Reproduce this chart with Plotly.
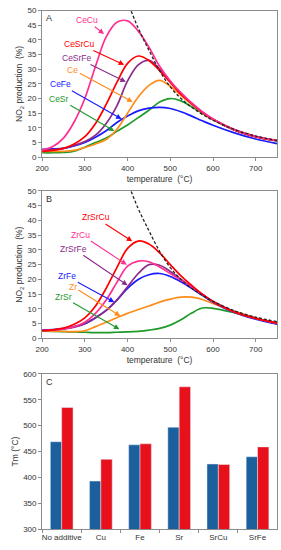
import plotly.graph_objects as go

# ---------------- data ----------------
T = [200, 225, 250, 275, 300, 325, 350, 375, 400, 425, 450, 475, 500, 525, 550, 575, 600, 650, 700, 750]

# Panel A (Ce-based)
ce_cu   = [2.4, 3.6, 6.5, 12.0, 20.0, 31.0, 41.0, 46.0, 46.5, 43.0, 37.5, 31.0, 26.0, 22.0, 18.5, 15.5, 13.0, 9.4, 7.1, 5.7]
ce_srcu = [2.0, 2.3, 3.0, 4.5, 7.0, 11.5, 18.0, 25.5, 32.0, 34.5, 33.0, 29.5, 25.5, 21.5, 18.3, 15.3, 12.9, 9.3, 7.0, 5.6]
ce_srfe = [2.5, 2.6, 3.0, 4.0, 5.3, 7.5, 11.5, 17.5, 26.0, 31.5, 33.0, 30.0, 25.8, 21.7, 18.3, 15.3, 12.9, 9.3, 7.0, 5.6]
ce      = [2.0, 2.0, 2.0, 2.3, 3.3, 4.5, 6.0, 9.5, 15.0, 20.5, 24.5, 26.2, 24.2, 21.0, 18.0, 15.2, 12.8, 9.3, 7.0, 5.6]
ce_fe   = [2.7, 2.8, 3.0, 3.8, 5.0, 6.8, 9.0, 11.8, 14.0, 15.8, 16.7, 17.0, 16.6, 15.5, 14.0, 12.4, 10.9, 8.3, 6.2, 4.6]
ce_sr   = [1.5, 1.5, 1.6, 2.0, 3.4, 5.0, 6.5, 8.8, 11.0, 13.5, 16.0, 18.8, 20.0, 19.2, 17.2, 15.0, 12.8, 9.3, 7.0, 5.5]

# Panel B (Zr-based)
zr_srcu = [2.6, 2.9, 3.5, 4.8, 7.0, 11.0, 17.0, 24.0, 30.5, 33.0, 32.0, 29.0, 25.0, 21.2, 18.0, 15.0, 12.5, 9.0, 6.8, 5.2]
zr_cu   = [2.6, 2.8, 3.2, 4.0, 5.5, 8.5, 13.0, 19.0, 24.5, 26.2, 26.0, 24.2, 22.0, 19.8, 17.5, 15.0, 12.5, 9.0, 6.8, 5.2]
zr_srfe = [2.7, 2.9, 3.2, 3.8, 5.0, 7.0, 9.5, 13.0, 17.5, 22.0, 25.0, 24.8, 22.7, 20.0, 17.4, 14.9, 12.5, 9.0, 6.8, 5.0]
zr_fe   = [2.8, 3.0, 3.3, 4.0, 5.0, 7.0, 9.5, 13.0, 17.0, 20.0, 21.6, 22.0, 21.0, 19.2, 17.0, 14.6, 12.3, 8.8, 6.5, 4.8]
zr      = [2.6, 2.5, 2.4, 2.3, 2.6, 4.0, 5.5, 7.0, 8.5, 9.8, 11.0, 12.3, 13.3, 14.0, 14.0, 13.2, 11.8, 9.2, 7.0, 5.0]
zr_sr   = [2.5, 2.4, 2.3, 2.2, 2.1, 2.0, 2.0, 2.1, 2.2, 2.4, 2.8, 3.4, 4.5, 6.3, 8.6, 10.3, 10.2, 8.7, 6.8, 5.0]

# Thermodynamic equilibrium (dashed)
T_eq = [400, 425, 450, 475, 500, 525, 550, 575, 600, 650, 700, 750]
eq   = [53.0, 44.0, 36.5, 29.5, 24.0, 20.0, 17.0, 14.6, 12.6, 9.4, 7.2, 5.7]

# Panel C (Tm)
additives = ["No additive", "Cu", "Fe", "Sr", "SrCu", "SrFe"]
tm_ce = [469, 393, 463, 497, 426, 440]
tm_zr = [535, 435, 465, 575, 425, 459]

# ---------------- styling ----------------
PINK, RED, PURPLE, ORANGE, BLUE, GREEN = "#ff2f92", "#ff0000", "#8b2a8b", "#ff8c1a", "#1a1aff", "#1f9a2a"
FONT = "Liberation Sans, Arial, sans-serif"
AX = "#8c8c8c"
TXT = "#333333"

fig = go.Figure()

seriesA = [("CeCu", ce_cu, PINK), ("CeSrCu", ce_srcu, RED), ("CeSrFe", ce_srfe, PURPLE),
           ("Ce", ce, ORANGE), ("CeFe", ce_fe, BLUE), ("CeSr", ce_sr, GREEN)]
seriesB = [("ZrSrCu", zr_srcu, RED), ("ZrCu", zr_cu, PINK), ("ZrSrFe", zr_srfe, PURPLE),
           ("ZrFe", zr_fe, BLUE), ("Zr", zr, ORANGE), ("ZrSr", zr_sr, GREEN)]

for i, (xa, ya, ser) in enumerate([("x", "y", seriesA), ("x2", "y2", seriesB)]):
    for name, vals, col in reversed(ser):
        fig.add_trace(go.Scatter(x=T, y=vals, mode="lines", name=name, xaxis=xa, yaxis=ya,
                                 line=dict(color=col, width=1.7, shape="spline", smoothing=1.0),
                                 showlegend=False))
    fig.add_trace(go.Scatter(x=T_eq, y=eq, mode="lines", xaxis=xa, yaxis=ya, showlegend=False,
                             line=dict(color="#222222", width=1.3, dash="3px,2px", shape="spline")))

fig.add_trace(go.Bar(x=additives, y=tm_ce, name="Ce", marker_color="#1b5f9c", xaxis="x3", yaxis="y3",
                     showlegend=False))
fig.add_trace(go.Bar(x=additives, y=tm_zr, name="Zr", marker_color="#e8101a", xaxis="x3", yaxis="y3",
                     showlegend=False))

# arrow annotations: (label, text x, text y, tip x, tip y, colour)
annA = [("CeCu", 304, 46.7, 345, 42.0, PINK),
        ("CeSrCu", 287, 38.6, 392, 31.5, RED),
        ("CeSrFe", 282, 33.8, 396, 25.7, PURPLE),
        ("Ce", 272, 29.9, 412, 18.8, ORANGE),
        ("CeFe", 243, 24.9, 386, 13.0, BLUE),
        ("CeSr", 240, 19.9, 369, 8.9, GREEN)]
annB = [("ZrSrCu", 325, 41.0, 411, 32.9, RED),
        ("ZrCu", 291, 35.2, 398, 25.0, PINK),
        ("ZrSrFe", 274, 30.4, 400, 18.0, PURPLE),
        ("ZrFe", 259, 21.0, 369, 12.3, BLUE),
        ("Zr", 272, 17.6, 383, 7.6, ORANGE),
        ("ZrSr", 249, 14.0, 381, 3.1, GREEN)]

annotations = []
for (xa, ya, lst) in [("x", "y", annA), ("x2", "y2", annB)]:
    for lab, tx, ty, px, py, col in lst:
        annotations.append(dict(text=lab, x=px, y=py, ax=tx, ay=ty, xref=xa, yref=ya, axref=xa, ayref=ya,
                                showarrow=True, arrowhead=2, arrowsize=1, arrowwidth=1.1, arrowcolor=col,
                                standoff=0, font=dict(family=FONT, size=8.5, color=col)))
for lab, xa, ya in [("A", "x", "y"), ("B", "x2", "y2"), ("C", "x3", "y3")]:
    annotations.append(dict(text=lab, x=0.01, y=0.995, xref=xa + " domain", yref=ya + " domain",
                            xanchor="left", yanchor="top", showarrow=False,
                            font=dict(family=FONT, size=9, color=TXT)))

def xax(domain, anchor, **kw):
    d = dict(domain=domain, anchor=anchor, showline=True, linecolor=AX, linewidth=1, mirror=True,
             ticks="outside", ticklen=3, tickcolor=AX, showgrid=False, zeroline=False,
             tickfont=dict(family=FONT, size=8, color=TXT))
    d.update(kw)
    return d

XD = [36 / 281, 277 / 281]
title_font = dict(family=FONT, size=8.5, color=TXT)
fig.update_layout(
    width=281, height=550, margin=dict(l=0, r=0, t=0, b=0),
    paper_bgcolor="white", plot_bgcolor="white",
    bargap=0.42, bargroupgap=0,
    annotations=annotations,
    xaxis=xax(XD, "y", range=[200, 750], tickvals=[200, 300, 400, 500, 600, 700],
              title=dict(text="temperature  (°C)", font=title_font, standoff=4)),
    yaxis=xax([1 - 155.7 / 550, 1 - 6.7 / 550], "x", range=[0, 50], dtick=5,
              title=dict(text="NO<sub>2</sub> production  (%)", font=title_font, standoff=3)),
    xaxis2=xax(XD, "y2", range=[200, 750], tickvals=[200, 300, 400, 500, 600, 700],
               title=dict(text="temperature  (°C)", font=title_font, standoff=4)),
    yaxis2=xax([1 - 340 / 550, 1 - 190 / 550], "x2", range=[0, 50], dtick=5,
               title=dict(text="NO<sub>2</sub> production  (%)", font=title_font, standoff=3)),
    xaxis3=xax(XD, "y3", tickson="boundaries", type="category", tickangle=0),
    yaxis3=xax([1 - 534 / 550, 1 - 376 / 550], "x3", range=[300, 600], dtick=50,
               title=dict(text="Tm (°C)", font=title_font, standoff=3)),
)

fig.write_html("out.html", config={"displayModeBar": False},
               post_script="document.body.style.margin='0';document.body.style.overflow='hidden';")
